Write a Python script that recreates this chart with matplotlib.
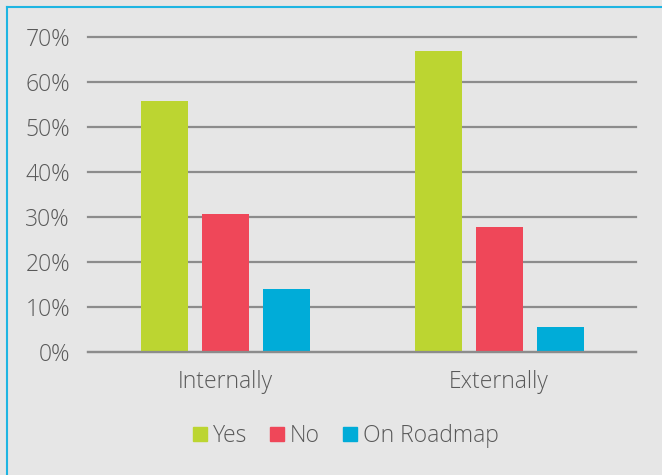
import matplotlib
matplotlib.use("Agg")
import matplotlib.pyplot as plt
from matplotlib.lines import Line2D
from matplotlib.ticker import PercentFormatter
import numpy as np

categories = ["Internally", "Externally"]
series_names = ["Yes", "No", "On Roadmap"]
yes_vals = [55.7, 66.8]
no_vals = [30.6, 27.8]
roadmap_vals = [14.0, 5.6]
y_ticks = [0, 10, 20, 30, 40, 50, 60, 70]

colors = ["#bcd531", "#ef4759", "#00acd8"]
bg = "#e6e6e6"
text_color = "#595959"
grid_color = "#8c8c8c"

plt.rcParams["font.family"] = ["Open Sans", "DejaVu Sans"]

W, H = 662, 475
fig = plt.figure(figsize=(W / 100, H / 100), dpi=100, facecolor=bg)
ax = fig.add_axes([88 / W, 1 - 352 / H, (636 - 88) / W, (352 - 37) / H])
ax.set_facecolor(bg)

x = np.arange(len(categories))
width = 47 / 274
step = 61 / 274
for i, (vals, name) in enumerate(zip([yes_vals, no_vals, roadmap_vals], series_names)):
    ax.bar(x + (i - 1) * step, vals, width=width, color=colors[i], label=name, zorder=3)

ax.set_xlim(-0.5, 1.5)
ax.set_ylim(0, 70)
ax.set_yticks(y_ticks)
ax.yaxis.set_major_formatter(PercentFormatter(decimals=0))
ax.yaxis.grid(True, color=grid_color, linewidth=1.6, zorder=1)
for gl in ax.get_ygridlines():
    gl.set_clip_on(False)
ax.set_axisbelow(True)
for s in ax.spines.values():
    s.set_visible(False)
ax.axhline(0, color=grid_color, linewidth=1.6, zorder=4, clip_on=False)
ax.tick_params(axis="both", length=0, labelsize=16.5, colors=text_color)
ax.tick_params(axis="y", pad=13)
ax.set_xticks(x)
ax.set_xticklabels(categories)
ax.tick_params(axis="x", pad=13)
for lab in ax.get_xticklabels() + ax.get_yticklabels():
    lab.set_fontweight("light")

handles = [plt.Rectangle((0, 0), 1, 1, color=c) for c in colors]
leg = fig.legend(handles, series_names, loc="center", bbox_to_anchor=(346 / W, 1 - 436 / H),
                 ncol=3, frameon=False, handlelength=0.62, handleheight=0.62,
                 handletextpad=0.25, columnspacing=1.0, fontsize=16.5)
for t in leg.get_texts():
    t.set_color(text_color)
    t.set_fontweight("light")

# frame lines along the top and left edge
fig.add_artist(Line2D([6.5 / W, 1], [1 - 6.5 / H, 1 - 6.5 / H], color="#1eb5e2", linewidth=1.5,
                      transform=fig.transFigure))
fig.add_artist(Line2D([6.5 / W, 6.5 / W], [0, 1 - 6.5 / H], color="#1eb5e2", linewidth=1.5,
                      transform=fig.transFigure))

fig.savefig("out.png", dpi=100, facecolor=bg)
